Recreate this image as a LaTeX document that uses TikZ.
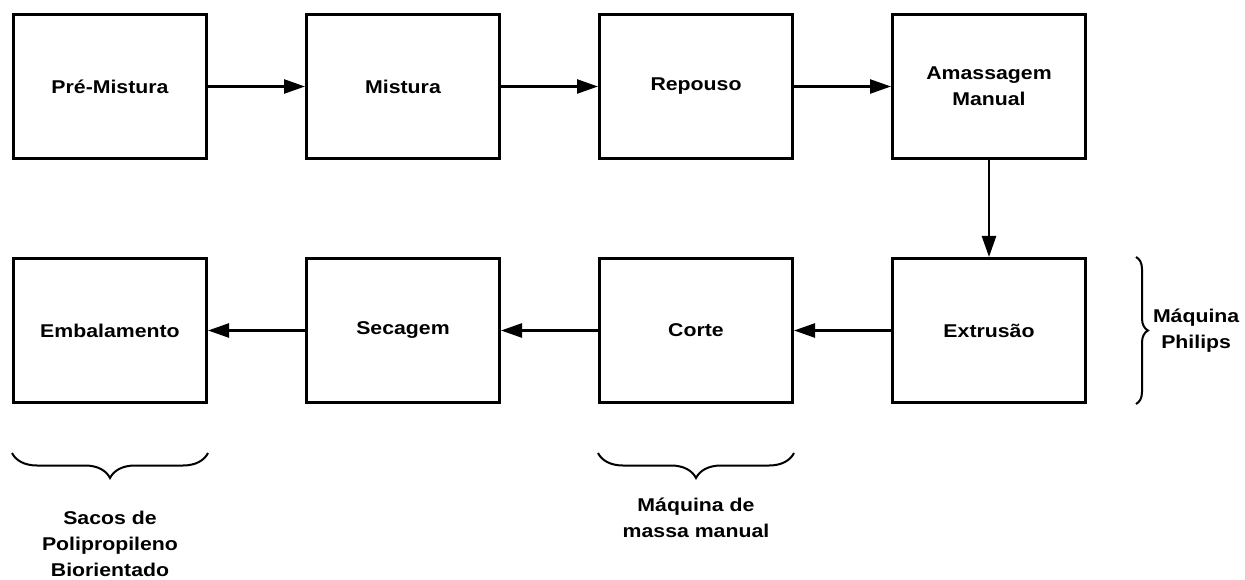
\documentclass[tikz,border=0pt]{standalone}
\usepackage{fontspec}
\setmainfont{Liberation Sans}[FakeStretch=1.15]
\usetikzlibrary{positioning, arrows.meta, decorations.pathreplacing}

\begin{document}
\begin{tikzpicture}[
        x=1pt, y=1pt,
        node distance=97pt and 97pt,
        box/.style={rectangle, draw=black, line width=3pt, minimum width=193pt, minimum height=144pt, align=center, font=\bfseries\fontsize{18.5}{26}\selectfont},
        arrow/.style={-{Triangle[length=21pt, width=14pt]}, line width=2.5pt, draw=black},
        bracket/.style={decorate, decoration={brace, amplitude=#1}, line width=2pt},
        note/.style={align=center, inner sep=0pt, font=\bfseries\fontsize{18.5}{26}\selectfont}
    ]

    \useasboundingbox (0,0) rectangle (1245,-580);

    % Nodes
    \node[box] at (110,-86.5) (premix) {Pré-Mistura};
    \node[box, right=of premix] (mix) {Mistura};
    \node[box, right=of mix] (rest) {Repouso};
    \node[box, right=of rest] (knead) {Amassagem\\Manual};
    \node[box, below=of knead] (extr) {Extrusão};
    \node[box, left=of extr] (cut) {Corte};
    \node[box, left=of cut] (dry) {Secagem};
    \node[box, left=of dry] (pack) {Embalamento};

    % Process flow
    \draw[arrow] (premix) -- (mix);
    \draw[arrow] (mix) -- (rest);
    \draw[arrow] (rest) -- (knead);
    \draw[arrow] (knead) -- (extr);
    \draw[arrow] (extr) -- (cut);
    \draw[arrow] (cut) -- (dry);
    \draw[arrow] (dry) -- (pack);

    % Equipment braces
    \draw[bracket=12pt] ([xshift=49pt]extr.north east) -- ([xshift=49pt]extr.south east)
        node[midway, right=16pt, note] (philips) {Máquina\\Philips};
    \draw[bracket=25pt] ([yshift=-49pt]cut.south east) -- ([yshift=-49pt]cut.south west)
        node[midway, below=44pt, note] (manual) {Máquina de\\massa manual};
    \draw[bracket=25pt] ([yshift=-49pt]pack.south east) -- ([yshift=-49pt]pack.south west)
        node[midway, below=57pt, note] (bags) {Sacos de\\Polipropileno\\Biorientado};

\end{tikzpicture}
\end{document}
